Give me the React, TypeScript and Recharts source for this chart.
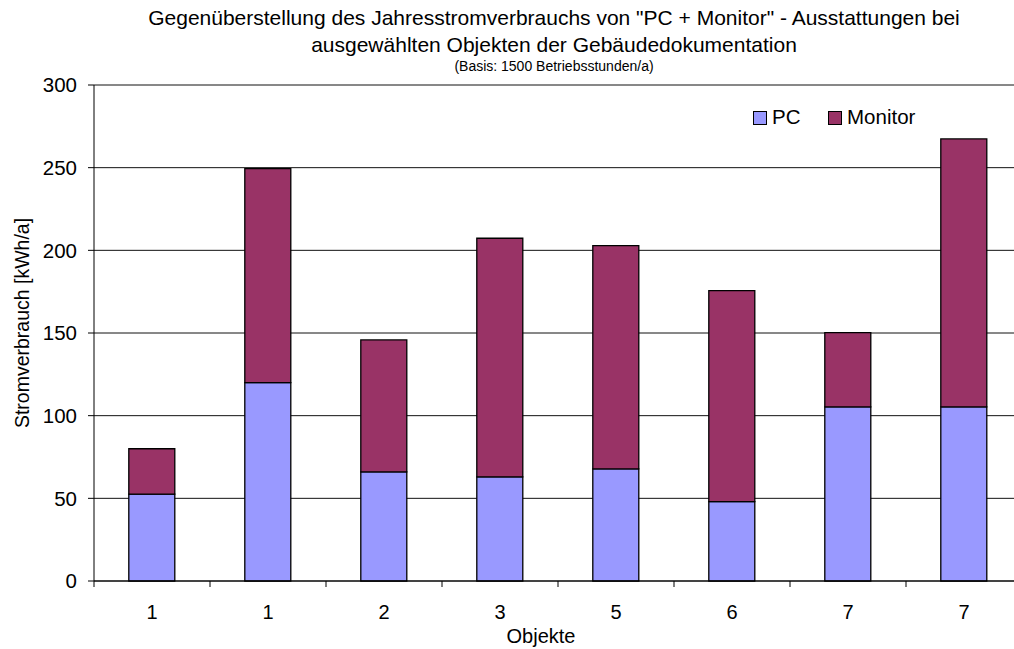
import React from "react";
import { Bar, BarChart, CartesianGrid, XAxis, YAxis } from "recharts";

// Jahresstromverbrauch PC + Monitor (kWh/a), Basis 1500 h/a
const objekte = ["1", "1", "2", "3", "5", "6", "7", "7"];
const pcValues = [52.6, 120, 66, 63, 67.8, 48, 105.3, 105.3];
const monitorValues = [27.4, 129.4, 79.8, 144.3, 135, 127.6, 44.9, 162.1];
const yTicks = [0, 50, 100, 150, 200, 250, 300];

const data = objekte.map((name, i) => ({
  name,
  pc: pcValues[i],
  monitor: monitorValues[i],
}));

const FONT = '"Liberation Sans", Arial, sans-serif';
const PC_COLOR = "#9999ff";
const MONITOR_COLOR = "#993366";

const CHART_W = 1030;
const CHART_H = 649;
const PLOT_TOP = 85;
const PLOT_LEFT = 94;
const PLOT_RIGHT = 1022;
const X_AXIS_H = 68;
const BAND = (PLOT_RIGHT - PLOT_LEFT) / objekte.length;

function CategoryTick(props: any) {
  const { x, y, payload } = props;
  const axisY = y - 8;
  return (
    <g>
      <line x1={x - BAND / 2} y1={axisY} x2={x - BAND / 2} y2={axisY + 6} stroke="#000" />
      <text x={x} y={axisY + 38} textAnchor="middle" fontFamily={FONT} fontSize={20} fill="#000">
        {payload.value}
      </text>
    </g>
  );
}

function XLabel(props: any) {
  const { viewBox } = props;
  return (
    <text
      x={viewBox.x + viewBox.width / 2 - 17}
      y={CHART_H - 6}
      textAnchor="middle"
      fontFamily={FONT}
      fontSize={20}
      fill="#000"
    >
      Objekte
    </text>
  );
}

function YLabel() {
  const cy = (PLOT_TOP + CHART_H - X_AXIS_H) / 2 - 10;
  return (
    <text
      x={29}
      y={cy}
      transform={`rotate(-90 29 ${cy})`}
      textAnchor="middle"
      fontFamily={FONT}
      fontSize={19.5}
      fill="#000"
    >
      Stromverbrauch [kWh/a]
    </text>
  );
}

function LegendItem({ left, label, color }: { left: number; label: string; color: string }) {
  return (
    <>
      <div
        style={{
          position: "absolute",
          left,
          top: 111,
          width: 14,
          height: 14,
          boxSizing: "border-box",
          background: color,
          border: "1px solid #000",
        }}
      />
      <div
        style={{
          position: "absolute",
          left: left + 19,
          top: 107,
          fontFamily: FONT,
          fontSize: 20.5,
          lineHeight: "20px",
          color: "#000",
          whiteSpace: "nowrap",
        }}
      >
        {label}
      </div>
    </>
  );
}

export default function App() {
  return (
    <div
      style={{
        position: "fixed",
        left: 0,
        top: 0,
        width: 1014,
        height: 649,
        overflow: "hidden",
        background: "#fff",
      }}
    >
      <div style={{ position: "absolute", left: 0, top: 0, fontFamily: FONT }}>
        <BarChart
          width={CHART_W}
          height={CHART_H}
          data={data}
          margin={{ top: PLOT_TOP, right: CHART_W - PLOT_RIGHT, left: 0, bottom: 0 }}
          barCategoryGap="30%"
        >
          <CartesianGrid vertical={false} stroke="#111" strokeWidth={1} horizontalValues={yTicks} />
          <XAxis
            dataKey="name"
            axisLine={{ stroke: "#000" }}
            tickLine={false}
            tick={<CategoryTick />}
            height={X_AXIS_H}
            interval={0}
            label={<XLabel />}
          />
          <YAxis
            width={PLOT_LEFT}
            domain={[0, 300]}
            ticks={yTicks}
            axisLine={{ stroke: "#000" }}
            tickLine={{ stroke: "#000" }}
            tickSize={6}
            tickMargin={11}
            tick={{ fontFamily: FONT, fontSize: 20.5, fill: "#000" }}
            label={<YLabel />}
          />
          <Bar dataKey="pc" stackId="a" fill={PC_COLOR} stroke="#000" strokeWidth={1.3} isAnimationActive={false} />
          <Bar dataKey="monitor" stackId="a" fill={MONITOR_COLOR} stroke="#000" strokeWidth={1.3} isAnimationActive={false} />
        </BarChart>
      </div>
      <div
        style={{
          position: "absolute",
          left: 0,
          top: 4,
          width: 1108,
          textAlign: "center",
          fontFamily: FONT,
          color: "#000",
        }}
      >
        <div style={{ fontSize: 21, lineHeight: "27px" }}>
          Gegenüberstellung des Jahresstromverbrauchs von "PC + Monitor" - Ausstattungen bei
        </div>
        <div style={{ fontSize: 21, lineHeight: "27px" }}>ausgewählten Objekten der Gebäudedokumentation</div>
        <div style={{ fontSize: 14, lineHeight: "16px" }}>(Basis: 1500 Betriebsstunden/a)</div>
      </div>
      <LegendItem left={753} label="PC" color={PC_COLOR} />
      <LegendItem left={828} label="Monitor" color={MONITOR_COLOR} />
    </div>
  );
}
